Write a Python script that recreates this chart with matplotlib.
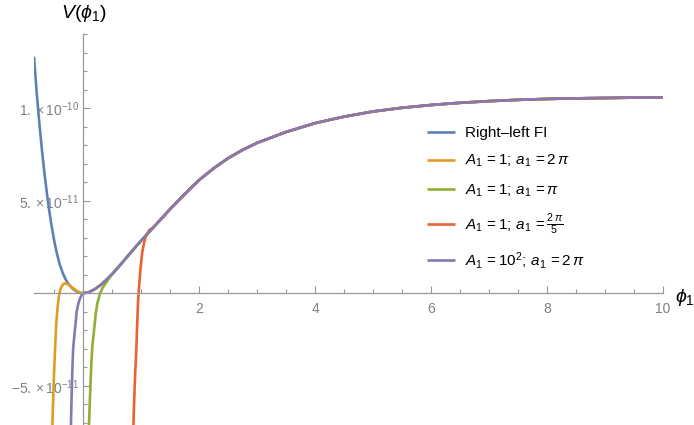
import matplotlib
matplotlib.use("Agg")
import matplotlib.pyplot as plt
import numpy as np

plt.rcParams['font.family'] = ['Liberation Sans', 'DejaVu Sans']
plt.rcParams['mathtext.fontset'] = 'custom'
plt.rcParams['mathtext.rm'] = 'Liberation Sans'
plt.rcParams['mathtext.it'] = 'Liberation Sans:italic'
plt.rcParams['mathtext.bf'] = 'Liberation Sans:bold'

# values: phi_1 and V in units of 1e-11
main_x = [0, 0.1, 0.2, 0.3, 0.4, 0.5, 0.6, 0.7, 0.8, 0.9, 1.0, 1.1, 1.2, 1.3, 1.4, 1.5,
          1.6, 1.75, 2.0, 2.25, 2.5, 2.75, 3.0, 3.5, 4.0, 4.5, 5.0, 5.5, 6.0, 6.5, 7.0,
          7.5, 8.0, 8.5, 9.0, 9.5, 10.0]
main_v = [0, 0.06, 0.22, 0.44, 0.72, 1.03, 1.38, 1.75, 2.12, 2.48, 2.84, 3.18, 3.52, 3.86,
          4.2, 4.55, 4.87, 5.35, 6.12, 6.75, 7.3, 7.75, 8.13, 8.72, 9.2, 9.55, 9.83, 10.03,
          10.18, 10.3, 10.39, 10.46, 10.51, 10.54, 10.56, 10.58, 10.59]

blue_left_x = [-0.845, -0.8, -0.75, -0.7, -0.65, -0.6, -0.55, -0.5, -0.45, -0.4, -0.35,
               -0.3, -0.25, -0.2, -0.15, -0.1, -0.05]
blue_left_v = [12.8, 10.9, 9.1, 7.5, 6.1, 4.85, 3.8, 2.9, 2.15, 1.55, 1.1, 0.75, 0.5,
               0.32, 0.18, 0.08, 0.02]

orange_left_x = [-0.535, -0.52, -0.51, -0.5, -0.49, -0.48, -0.47, -0.46, -0.44, -0.42,
                 -0.4, -0.37, -0.34, -0.31, -0.27, -0.22, -0.17, -0.1, -0.05]
orange_left_v = [-8.0, -6.3, -5.3, -4.4, -3.6, -2.9, -2.2, -1.6, -0.8, -0.25, 0.1, 0.36,
                 0.5, 0.54, 0.5, 0.4, 0.27, 0.12, 0.04]

green_left_x = [0.095, 0.1, 0.12, 0.14, 0.16, 0.19, 0.22, 0.25, 0.29, 0.33, 0.37, 0.42]
green_left_v = [-8.0, -7.4, -5.6, -4.0, -2.9, -2.0, -1.1, -0.5, -0.05, 0.25, 0.45, 0.68]

red_x = [0.86, 0.865, 0.88, 0.9, 0.92, 0.93, 0.95, 0.97, 0.99, 1.02, 1.06, 1.1, 1.15, 1.2]
red_v = [-8.0, -7.5, -6.0, -4.3, -3.0, -2.0, -0.4, 0.5, 1.3, 2.2, 2.85, 3.2, 3.45, 3.52]

purple_left_x = [-0.22, -0.21, -0.2, -0.19, -0.18, -0.17, -0.15, -0.13, -0.11, -0.08,
                 -0.05, -0.02]
purple_left_v = [-8.0, -7.4, -6.0, -4.8, -3.8, -3.0, -2.3, -1.7, -1.0, -0.54, -0.27, -0.08]

labels = ["Right\u2013left FI",
          r"$A_1\,=1;\,a_1\,=2\,\pi$",
          r"$A_1\,=1;\,a_1\,=\pi$",
          r"$A_1\,=1;\,a_1\,=\frac{2\,\pi}{5}$",
          r"$A_1\,=10^2;\,a_1\,=2\,\pi$"]
colors = ["#5E81B5", "#E19C24", "#8FB032", "#EB6235", "#8778B3"]

xticks = [2, 4, 6, 8, 10]
xtick_labels = ["2", "4", "6", "8", "10"]
yticks = [-5, 5, 10]
ytick_labels = [r"$-5.\times10^{-11}$", r"$5.\times10^{-11}$", r"$1.\times10^{-10}$"]


def join(lx, lv, start):
    mx = [x for x in main_x if x >= start]
    mv = [v for x, v in zip(main_x, main_v) if x >= start]
    return np.array(list(lx) + mx), np.array(list(lv) + mv)


series = [
    join(blue_left_x, blue_left_v, 0),
    join(orange_left_x, orange_left_v, 0),
    join(green_left_x, green_left_v, 0.5),
    join(red_x, red_v, 1.25),
    join(purple_left_x, purple_left_v, 0),
]

fig = plt.figure(figsize=(6.94, 4.25), dpi=100)
ax = fig.add_axes([34 / 694, 0, 629 / 694, 391 / 425])

lw = 1.9
for (x, v), c, lab in zip(series, colors, labels):
    ax.plot(x, v, color=c, lw=lw, label=lab, solid_capstyle='butt')

ax.set_xlim(-0.845, 10.0)
ax.set_ylim(-7.12, 14.02)

for s in ['top', 'right']:
    ax.spines[s].set_visible(False)
ax.spines['left'].set_position(('data', 0))
ax.spines['bottom'].set_position(('data', 0))
for s in ['left', 'bottom']:
    ax.spines[s].set_color('#999999')
    ax.spines[s].set_linewidth(0.9)

ax.set_xticks(xticks)
ax.set_xticklabels(xtick_labels)
ax.set_xticks(np.arange(-0.5, 10.01, 0.5), minor=True)
ax.set_yticks(yticks)
ax.set_yticklabels(ytick_labels)
ax.set_yticks(np.arange(-7, 14.01, 1), minor=True)
ax.tick_params(which='both', direction='in', color='#999999', width=0.8,
               labelcolor='#808080', labelsize=10)
ax.tick_params(which='major', length=5)
ax.tick_params(which='minor', length=3)
ax.tick_params(axis='x', pad=6)
ax.tick_params(axis='y', pad=3)

fig.text(84 / 694, 1 - 13 / 425, r"$V(\phi_1)$", fontsize=14, ha='center', va='center')
fig.text(685 / 694, 1 - 298 / 425, r"$\phi_1$", fontsize=14, ha='center', va='center')

leg = ax.legend(loc='upper left', bbox_to_anchor=(421 / 629 - 34 / 629, 1 - (120 - 34) / 391),
                frameon=False, fontsize=11, handlelength=1.8, handletextpad=0.7,
                labelspacing=0.85, borderaxespad=0)

fig.savefig("out.png", dpi=100)
